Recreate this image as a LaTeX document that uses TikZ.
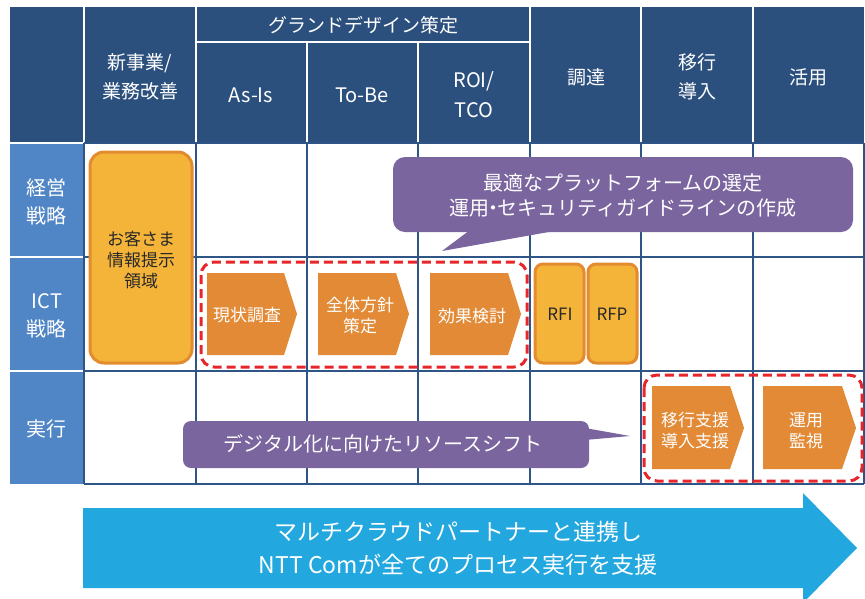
\documentclass[tikz,border=0pt]{standalone}
\usepackage{fontspec}
\setmainfont{Noto Sans CJK JP}
\definecolor{hdr}{RGB}{44,80,126}
\definecolor{side}{RGB}{80,134,198}
\definecolor{gridc}{RGB}{47,85,135}
\definecolor{boxfill}{RGB}{244,180,58}
\definecolor{boxline}{RGB}{227,139,47}
\definecolor{chev}{RGB}{227,138,54}
\definecolor{redd}{RGB}{232,37,42}
\definecolor{purp}{RGB}{122,101,159}
\definecolor{arrb}{RGB}{34,167,222}
\definecolor{darktxt}{RGB}{40,40,40}
\tikzset{
  hdrtxt/.style={text=white, align=center, inner sep=0pt, font=\fontsize{19}{29}\selectfont},
  sidetxt/.style={text=white, align=center, inner sep=0pt, font=\fontsize{20}{28}\selectfont},
  chevtxt/.style={text=white, align=center, inner sep=0pt, font=\fontsize{17}{21}\selectfont},
  darkbox/.style={text=darktxt, align=center, inner sep=0pt, font=\fontsize{17}{21}\selectfont},
  calltxt/.style={text=white, align=center, inner sep=0pt, font=\fontsize{20}{25}\selectfont},
  whiteline/.style={white, line width=2pt},
  gridline/.style={gridc, line width=1.5pt},
  roundbox/.style={fill=boxfill, draw=boxline, line width=3pt},
  chevshape/.style={fill=chev},
  reddash/.style={draw=redd, line width=3pt, dash pattern=on 9pt off 5pt, rounded corners=13pt},
}
\begin{document}
\begin{tikzpicture}[x=1pt,y=-1pt]
\useasboundingbox (0,0) rectangle (865,598);
% header
\fill[hdr] (10,7) rectangle (864,143);
\foreach \xx in {84,196,530,641,753} \draw[whiteline] (\xx,7) -- (\xx,143);
\draw[whiteline] (196,42) -- (530,42);
\foreach \xx in {307,418} \draw[whiteline] (\xx,42) -- (\xx,143);
% side column
\fill[side] (10,143) rectangle (84,484);
\draw[whiteline] (10,143) -- (84,143);
\draw[whiteline] (10,257) -- (84,257);
\draw[whiteline] (10,371) -- (84,371);
% body grid
\foreach \xx in {196,307,418,530,641,753} \draw[gridline] (\xx,143) -- (\xx,484);
\draw[gridline] (84,257) -- (864,257);
\draw[gridline] (84,371) -- (864,371);
\draw[gridline] (84,143) -- (864,143);
\draw[gridline] (84,484) -- (864,484);
\draw[gridline] (84,143) -- (84,484);
\draw[gridline] (864,143) -- (864,484);
% header texts
\node[hdrtxt] (h1) at (140,77) {新事業/\\業務改善};
\node[hdrtxt] (h2) at (363,25) {グランドデザイン策定};
\node[hdrtxt, font=\fontsize{20}{29}\selectfont] (h3) at (251,95) {As-Is};
\node[hdrtxt, font=\fontsize{20}{29}\selectfont] (h4) at (362,95) {To-Be};
\node[hdrtxt, font=\fontsize{20}{30}\selectfont] (h5) at (474,95) {ROI/\\TCO};
\node[hdrtxt] (h6) at (586,77) {調達};
\node[hdrtxt] (h7) at (697,77) {移行\\導入};
\node[hdrtxt] (h8) at (808,77) {活用};
% side texts
\node[sidetxt] (s1) at (47,202) {経営\\戦略};
\node[sidetxt] (s2) at (47,316) {ICT\\戦略};
\node[sidetxt] (s3) at (47,429) {実行};
% customer box
\draw[roundbox, rounded corners=14pt] (90,152) rectangle (192,363);
\node[darkbox] (cust) at (141,260) {お客さま\\情報提示\\領域};
% red dashed groups
\draw[reddash] (201,262) rectangle (527,367);
\draw[reddash] (644,375) rectangle (862,481);
% chevrons
\fill[chevshape] (207,273) -- (284,273) -- (297,314) -- (284,355) -- (207,355) -- cycle;
\fill[chevshape] (318,273) -- (396,273) -- (409,314) -- (396,355) -- (318,355) -- cycle;
\fill[chevshape] (430,273) -- (508,273) -- (521,314) -- (508,355) -- (430,355) -- cycle;
\fill[chevshape] (652,386) -- (730,386) -- (744,428) -- (730,469) -- (652,469) -- cycle;
\fill[chevshape] (763,386) -- (842,386) -- (856,428) -- (842,469) -- (763,469) -- cycle;
\node[chevtxt] (c1) at (247,315) {現状調査};
\node[chevtxt] (c2) at (360,316) {全体方針\\策定};
\node[chevtxt] (c3) at (472,316) {効果検討};
\node[chevtxt] (c4) at (695,431) {移行支援\\導入支援};
\node[chevtxt] (c5) at (806,431) {運用\\監視};
% RFI RFP
\draw[roundbox, rounded corners=8pt] (535,264) rectangle (584,363);
\draw[roundbox, rounded corners=8pt] (588,264) rectangle (637,363);
\node[darkbox] (rfi) at (560,314) {RFI};
\node[darkbox] (rfp) at (612,314) {RFP};
% callout 1
\fill[purp, rounded corners=12pt] (393,157) rectangle (853,232);
\fill[purp] (470,230) -- (442,251) -- (560,230) -- cycle;
\node[calltxt] (k1) at (623,195) {最適なプラットフォームの選定\\運用\kern-6pt・\kern-6pt セキュリティガイドラインの作成};
% callout 2
\fill[purp, rounded corners=8pt] (183,421) rectangle (589,468);
\fill[purp] (585,428) -- (630,436) -- (585,440) -- cycle;
\node[calltxt] (k2) at (383,444) {デジタル化に向けたリソースシフト};
% big arrow
\fill[arrb] (83,508) -- (803,508) -- (803,493) -- (857,548) -- (803,603) -- (803,588) -- (83,588) -- cycle;
\node[text=white, align=center, inner sep=0pt, font=\fontsize{23}{33}\selectfont] (big) at (458,548) {マルチクラウドパートナーと連携し\\NTT Comが全てのプロセス実行を支援};
\end{tikzpicture}
\end{document}
